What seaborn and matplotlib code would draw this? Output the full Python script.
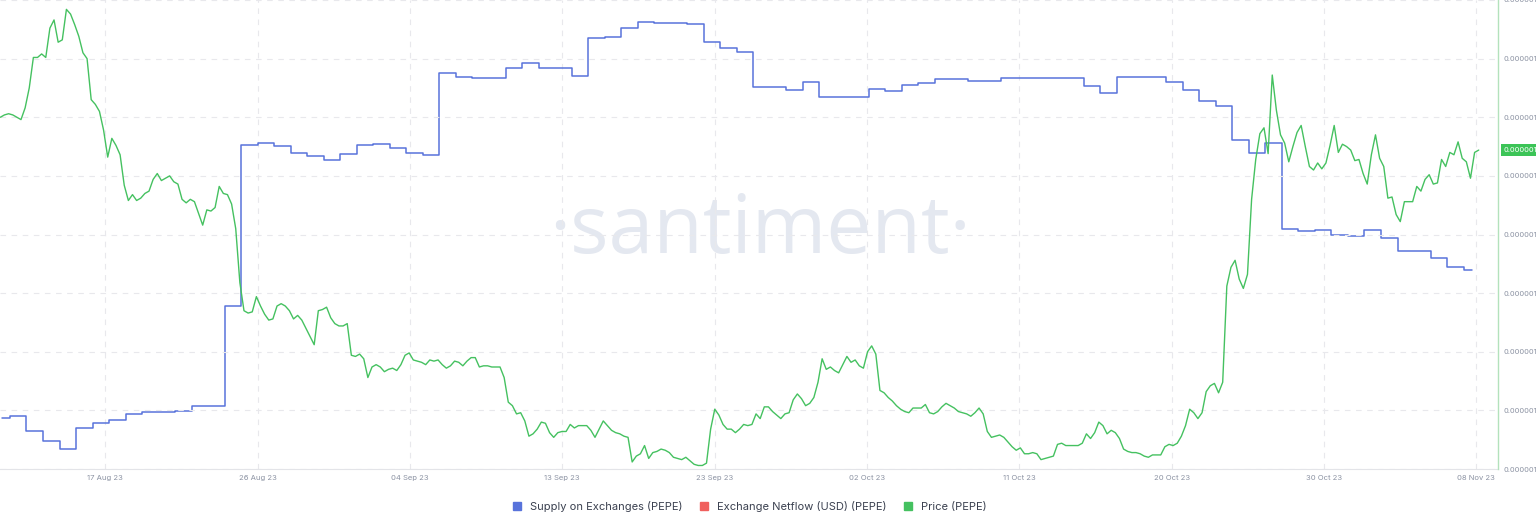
import pandas as pd
import matplotlib.pyplot as plt
from matplotlib.lines import Line2D
import seaborn as sns

# PEPE price, 6-hourly samples, in units of 1e-6 USD
price = [
    1.300, 1.302, 1.303, 1.302, 1.300, 1.298, 1.308, 1.325, 1.351, 1.351,
    1.354, 1.351, 1.376, 1.383, 1.364, 1.366, 1.392, 1.388, 1.379, 1.369,
    1.355, 1.350, 1.315, 1.311, 1.305, 1.289, 1.266, 1.282, 1.276, 1.268,
    1.242, 1.229, 1.234, 1.229, 1.231, 1.235, 1.237, 1.247, 1.252, 1.246,
    1.248, 1.250, 1.245, 1.243, 1.230, 1.227, 1.230, 1.228, 1.218, 1.208,
    1.221, 1.220, 1.223, 1.241, 1.235, 1.234, 1.226, 1.205, 1.159, 1.135,
    1.133, 1.134, 1.147, 1.139, 1.132, 1.127, 1.128, 1.139, 1.141, 1.139,
    1.135, 1.128, 1.131, 1.127, 1.120, 1.113, 1.106, 1.135, 1.136, 1.138,
    1.129, 1.124, 1.122, 1.122, 1.124, 1.097, 1.096, 1.098, 1.094, 1.078,
    1.087, 1.089, 1.087, 1.083, 1.085, 1.086, 1.084, 1.089, 1.097, 1.099,
    1.093, 1.092, 1.091, 1.089, 1.093, 1.092, 1.093, 1.089, 1.086, 1.088,
    1.092, 1.091, 1.088, 1.092, 1.095, 1.095, 1.087, 1.088, 1.088, 1.087,
    1.087, 1.087, 1.078, 1.057, 1.054, 1.047, 1.048, 1.041, 1.028, 1.030,
    1.034, 1.040, 1.039, 1.031, 1.027, 1.031, 1.032, 1.032, 1.038, 1.035,
    1.037, 1.037, 1.037, 1.033, 1.027, 1.034, 1.041, 1.037, 1.033, 1.031,
    1.030, 1.028, 1.027, 1.006, 1.011, 1.013, 1.020, 1.009, 1.014, 1.015,
    1.017, 1.016, 1.014, 1.010, 1.009, 1.008, 1.010, 1.007, 1.004, 1.003,
    1.003, 1.005, 1.034, 1.051, 1.046, 1.038, 1.034, 1.034, 1.031, 1.034,
    1.038, 1.037, 1.038, 1.047, 1.043, 1.053, 1.053, 1.049, 1.046, 1.043,
    1.047, 1.048, 1.059, 1.064, 1.060, 1.054, 1.056, 1.061, 1.074, 1.094,
    1.085, 1.087, 1.084, 1.082, 1.089, 1.096, 1.091, 1.093, 1.088, 1.086,
    1.100, 1.105, 1.098, 1.067, 1.065, 1.061, 1.058, 1.054, 1.051, 1.049,
    1.048, 1.052, 1.052, 1.052, 1.055, 1.048, 1.047, 1.049, 1.053, 1.056,
    1.054, 1.052, 1.049, 1.048, 1.047, 1.045, 1.048, 1.052, 1.047, 1.032,
    1.027, 1.028, 1.029, 1.027, 1.023, 1.019, 1.016, 1.018, 1.013, 1.013,
    1.014, 1.013, 1.008, 1.009, 1.010, 1.011, 1.021, 1.022, 1.020, 1.020,
    1.020, 1.020, 1.022, 1.030, 1.026, 1.031, 1.040, 1.037, 1.030, 1.033,
    1.031, 1.026, 1.017, 1.015, 1.014, 1.014, 1.013, 1.011, 1.010, 1.012,
    1.012, 1.012, 1.019, 1.021, 1.020, 1.022, 1.028, 1.037, 1.051, 1.048,
    1.043, 1.048, 1.066, 1.071, 1.073, 1.065, 1.074, 1.156, 1.172, 1.178,
    1.162, 1.154, 1.166, 1.230, 1.264, 1.286, 1.291, 1.269, 1.336, 1.306,
    1.285, 1.278, 1.262, 1.275, 1.287, 1.293, 1.275, 1.258, 1.255, 1.261,
    1.256, 1.261, 1.276, 1.293, 1.270, 1.277, 1.275, 1.272, 1.263, 1.264,
    1.252, 1.243, 1.268, 1.285, 1.265, 1.258, 1.231, 1.232, 1.217, 1.211,
    1.228, 1.228, 1.228, 1.241, 1.237, 1.247, 1.251, 1.243, 1.244, 1.264,
    1.258, 1.270, 1.268, 1.279, 1.265, 1.262, 1.248, 1.270, 1.272,
]
price_times = pd.date_range("2023-08-10 22:00", periods=len(price), freq="6h")

# supply on exchanges, daily, trillions of PEPE
supply = [
    122.55, 122.65, 121.90, 121.40, 121.00, 122.05, 122.30, 122.45, 122.75, 122.85,
    122.85, 122.90, 123.15, 123.15, 128.15, 136.20, 136.30, 136.15, 135.80, 135.65,
    135.45, 135.75, 136.20, 136.25, 136.05, 135.80, 135.70, 139.80, 139.60, 139.55,
    139.55, 140.05, 140.30, 140.05, 140.05, 139.65, 141.55, 141.60, 142.05, 142.35,
    142.30, 142.30, 142.25, 141.35, 141.05, 140.85, 139.10, 139.10, 138.95, 139.35,
    138.60, 138.60, 138.60, 139.00, 138.90, 139.20, 139.30, 139.50, 139.50, 139.40,
    139.40, 139.55, 139.55, 139.55, 139.55, 139.55, 139.15, 138.80, 139.60, 139.60,
    139.60, 139.35, 138.95, 138.40, 138.15, 136.45, 135.80, 136.30, 132.00, 131.90,
    131.95, 131.70, 131.65, 131.95, 131.55, 130.90, 130.90, 130.55, 130.10, 129.95,
]
supply_days = pd.date_range("2023-08-11", periods=len(supply), freq="D")

price_ticks = [1.00, 1.05, 1.10, 1.15, 1.20, 1.25, 1.30, 1.35, 1.40]
tick_start = pd.Timestamp("2023-08-17 06:30")
tick_step = pd.Timedelta(days=83 / 9)
n_xticks = 10

legend_labels = ["Supply on Exchanges (PEPE)", "Exchange Netflow (USD) (PEPE)", "Price (PEPE)"]
blue, red, green = "#5873db", "#f0605d", "#45c160"

sns.set_style("white")
plt.rcParams["font.family"] = ["Inter", "DejaVu Sans"]

fig = plt.figure(figsize=(15.36, 5.12), dpi=100)
ax = fig.add_axes([0, 43 / 512, 1498 / 1536, 469 / 512])
ax2 = ax.twinx()

# supply (left axis, labels hidden)
sns.lineplot(x=supply_days, y=supply, ax=ax, color=blue, linewidth=1.1,
             drawstyle="steps-mid", legend=False)
ax.set_ylim(120, 143.45)
ax.set_yticks([])
ax.set_ylabel("")

# price (right axis)
sns.lineplot(x=price_times, y=price, ax=ax2, color=green, linewidth=1.0, legend=False)
ax2.set_ylim(price_ticks[0], price_ticks[-1])
ax2.set_yticks(price_ticks)
ax2.set_yticklabels([f"{v * 1e-6:.8f}" for v in price_ticks])
ax2.set_ylabel("")

xticks = [tick_start + i * tick_step for i in range(n_xticks)]
ax.set_xlim(pd.Timestamp("2023-08-10 21:30"), pd.Timestamp("2023-11-09 14:00"))
ax.set_xticks(xticks)
ax.set_xticklabels([t.strftime("%d %b %y") for t in xticks])
ax.set_xlabel("")

grid_kw = dict(color="#e8e8ec", linestyle=(0, (5, 5)), linewidth=0.8)
ax.grid(axis="x", **grid_kw)
ax2.grid(axis="y", **grid_kw)
ax.set_axisbelow(True)
ax2.set_axisbelow(True)

ax.tick_params(axis="x", length=0, pad=4, labelsize=5.5, labelcolor="#8c93a3")
ax2.tick_params(axis="y", length=0, pad=4, labelsize=5.4, labelcolor="#8c93a3")

for s in ["top", "left", "right"]:
    ax.spines[s].set_visible(False)
ax.spines["bottom"].set_color("#e3e4e8")
for s in ["top", "left", "bottom"]:
    ax2.spines[s].set_visible(False)
ax2.spines["right"].set_color("#b3e2bc")
ax2.spines["right"].set_linewidth(1.0)

# watermark
ax.text(760 / 1536, 1 - 253 / 512, "\u00b7santiment\u00b7", transform=fig.transFigure,
        ha="center", va="baseline", fontsize=58, color="#e4e8f0",
        family=["Open Sans", "DejaVu Sans"], zorder=0.5)

# current price badge
ax2.annotate(f"{price[-1] * 1e-6:.8f}", xy=(1, price[-1]), xycoords=("axes fraction", "data"),
             xytext=(4, 0), textcoords="offset points", ha="left", va="center",
             fontsize=5.4, color="white", annotation_clip=False,
             bbox=dict(boxstyle="square,pad=0.35", fc="#3cc457", ec="none"))

handles = [Line2D([], [], marker="s", linestyle="none", markersize=5.5, color=c)
           for c in (blue, red, green)]
fig.legend(handles, legend_labels, loc="center", bbox_to_anchor=(0.486, 0.011), ncol=3,
           frameon=False, fontsize=8.0, handletextpad=0.2, columnspacing=0.9,
           labelcolor="#3b4150")

fig.savefig("out.png", dpi=100)
